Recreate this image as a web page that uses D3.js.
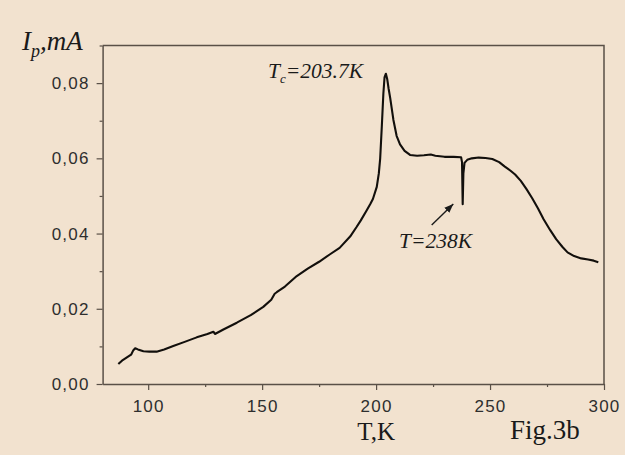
<!DOCTYPE html>
<html><head><meta charset="utf-8">
<script src="https://cdn.jsdelivr.net/npm/d3@7"></script>
<style>
html,body{margin:0;padding:0;background:#f2e2cf;}
svg{display:block;}
</style></head>
<body>
<svg id="chart" width="625" height="455"></svg>
<script>
// ---- data ----
const temperatureK = [86.9,88.5,90.5,92.5,93.5,94.3,95.5,97.9,100.5,103.7,107,111,116,121.3,126,128.6,129.3,133,138.9,145,150.5,154,155.5,156.4,160,165.2,170,175,179.8,184,188.6,191.5,193.3,195.9,197.4,198.6,200.3,201.2,201.8,202.5,203.2,203.7,204.3,204.9,205.5,206.2,207.6,209,210.5,212.5,214.9,218,221,224,226,230,234,237.3,237.7,238.0,238.3,238.8,240,242,245,248,251,254,256.5,259,261,263.5,266,268.5,271,273.5,276.4,279,281.7,284,286.9,290,293,295.5,297.5];
const currentMA = [0.0053,0.0062,0.0070,0.0078,0.0090,0.0095,0.0092,0.0087,0.0086,0.0086,0.0092,0.0101,0.0112,0.0124,0.0133,0.0139,0.0133,0.0145,0.0163,0.0183,0.0205,0.0224,0.0240,0.0244,0.0259,0.0287,0.0307,0.0325,0.0345,0.0362,0.0392,0.0418,0.0435,0.0462,0.0478,0.0492,0.0524,0.0560,0.0600,0.0684,0.0773,0.0815,0.0825,0.0810,0.0785,0.0760,0.0702,0.0660,0.0637,0.0620,0.0609,0.0607,0.0608,0.0610,0.0607,0.0604,0.0604,0.0603,0.0590,0.0478,0.0560,0.0588,0.0596,0.0600,0.0602,0.0601,0.0598,0.0590,0.0578,0.0567,0.0557,0.0540,0.0518,0.0494,0.0467,0.0438,0.0409,0.0385,0.0365,0.0350,0.0340,0.0334,0.0331,0.0328,0.0324];
const xMajorTicks = [100,150,200,250,300];
const xMinorTicks = [125,175,225,275];
const yMajorTicks = [0,0.02,0.04,0.06,0.08];
const yMinorTicks = [0.01,0.03,0.05,0.07,0.09];
const xDomain = [80,300];
const yDomain = [0,0.09];

// ---- layout ----
const L = 102.6, R = 604, T = 45.5, B = 384;
const svg = d3.select("#chart");
svg.append("rect").attr("width",625).attr("height",455).attr("fill","#f2e2cf");

const x = d3.scaleLinear().domain(xDomain).range([L,R]);
const y = d3.scaleLinear().domain(yDomain).range([B,T]);
const axisColor = "#5a5047";
const labelColor = "#2e2e2e";

// frame (top & right)
svg.append("path")
  .attr("d",`M${L},${T}H${R}V${B}`)
  .attr("fill","none").attr("stroke",axisColor).attr("stroke-width",1.5);

function styleAxis(g){
  g.select(".domain").attr("stroke",axisColor).attr("stroke-width",1.5);
  g.selectAll(".tick line").attr("stroke",axisColor).attr("stroke-width",1.2);
  g.selectAll(".tick text").attr("fill",labelColor)
    .attr("font-family","'Liberation Sans', Arial, sans-serif")
    .attr("font-size",17).attr("letter-spacing",1.2);
}

// x axis
const gx = svg.append("g").attr("transform",`translate(0,${B})`)
  .call(d3.axisBottom(x).tickValues(xMajorTicks).tickSize(6).tickPadding(10).tickSizeOuter(0).tickFormat(d3.format("d")));
styleAxis(gx);
svg.append("g").attr("transform",`translate(0,${B})`)
  .call(d3.axisBottom(x).tickValues(xMinorTicks).tickSize(3).tickFormat(""))
  .call(g=>{g.select(".domain").remove(); g.selectAll(".tick line").attr("stroke",axisColor).attr("stroke-width",1.2);});

// y axis
const fmtY = v => d3.format(".2f")(v).replace(".",",");
const gy = svg.append("g").attr("transform",`translate(${L},0)`)
  .call(d3.axisLeft(y).tickValues(yMajorTicks).tickSize(6).tickPadding(7).tickSizeOuter(0).tickFormat(fmtY));
styleAxis(gy);
svg.append("g").attr("transform",`translate(${L},0)`)
  .call(d3.axisLeft(y).tickValues(yMinorTicks).tickSize(3).tickFormat(""))
  .call(g=>{g.select(".domain").remove(); g.selectAll(".tick line").attr("stroke",axisColor).attr("stroke-width",1.2);});

// curve
const pts = temperatureK.map((t,i)=>[t,currentMA[i]]);
svg.append("path").datum(pts)
  .attr("fill","none").attr("stroke","#120f0c").attr("stroke-width",2.1)
  .attr("stroke-linejoin","round")
  .attr("d",d3.line().x(d=>x(d[0])).y(d=>y(d[1])).curve(d3.curveLinear));

const serif = "'Liberation Serif','Times New Roman',serif";

// y label I_p,mA
const yl = svg.append("text").attr("x",22).attr("y",50)
  .attr("font-family",serif).attr("font-style","italic").attr("fill","#1a1a1a").attr("font-size",27);
yl.append("tspan").text("I");
yl.append("tspan").attr("font-size",18).attr("dy",7).text("p");
yl.append("tspan").attr("dy",-7).text(",mA");

// x label
svg.append("text").attr("x",x(200)).attr("y",440).attr("text-anchor","middle")
  .attr("font-family",serif).attr("font-size",25).attr("fill","#1a1a1a").text("T,K");
svg.append("text").attr("x",510).attr("y",439)
  .attr("font-family",serif).attr("font-size",27).attr("fill","#1a1a1a").text("Fig.3b");

// annotations
const tc = svg.append("text").attr("x",268).attr("y",78)
  .attr("font-family",serif).attr("font-style","italic").attr("font-size",21.5).attr("fill","#1a1a1a");
tc.append("tspan").text("T");
tc.append("tspan").attr("font-size",13).attr("dy",5).text("c");
tc.append("tspan").attr("dy",-5).text("=203.7K");

svg.append("text").attr("x",399).attr("y",248)
  .attr("font-family",serif).attr("font-style","italic").attr("font-size",21.5).attr("fill","#1a1a1a")
  .text("T=238K");

// arrow
const defs = svg.append("defs");
defs.append("marker").attr("id","ah").attr("viewBox","0 0 10 10").attr("refX",10).attr("refY",5)
  .attr("markerWidth",9).attr("markerHeight",9).attr("orient","auto").attr("markerUnits","userSpaceOnUse")
  .append("path").attr("d","M0,1L10,5L0,9Z").attr("fill","#1a1a1a");
svg.append("line").attr("x1",431.7).attr("y1",225).attr("x2",453.3).attr("y2",204)
  .attr("stroke","#1a1a1a").attr("stroke-width",1.4).attr("marker-end","url(#ah)");
</script>
</body></html>
